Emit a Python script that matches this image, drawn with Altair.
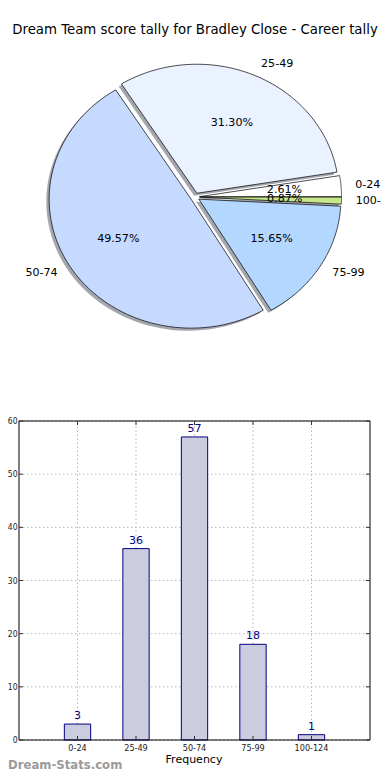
import altair as alt
import pandas as pd

# ---------------- data ----------------
title_text = "Dream Team score tally for Bradley Close - Career tally"
cats = ["0-24", "25-49", "50-74", "75-99", "100-124"]
counts = [3, 36, 57, 18, 1]
pie_colors = ["#ffffff", "#eaf2ff", "#c6d9ff", "#b3d7ff", "#c8e68c"]
y_ticks = [0, 10, 20, 30, 40, 50, 60]
x_title = "Frequency"
watermark = "Dream-Stats.com"

# ---------------- layout (canvas pixels) ----------------
W, H = 374, 764
CX, CY = 187, 189          # pie centre
RX, RY = 142, 129          # pie radii (elliptical like the original)
EXPLODE = 0.032
N = 72                     # points per arc
SDX, SDY = -2.8, 2.6       # shadow offset
BX0, BX1, BY0, BY1 = 11, 362, 732, 413  # bar plot frame
XMIN, XMAX, YMIN, YMAX = -1, 5, 0, 60
TICK_X = 4 * (XMAX - XMIN) / (BX1 - BX0)   # 4px tick length in x data units
TICK_Y = 4 * (YMAX - YMIN) / (BY0 - BY1)   # 4px tick length in y data units
FONT = "DejaVu Sans"
SMALL_FONT = "DejaVu Sans Condensed, Liberation Sans Narrow, DejaVu Sans"

pie_df = pd.DataFrame({"cat": cats, "count": counts, "order": list(range(len(cats)))})
bar_df = pd.DataFrame({"cat": cats, "count": counts, "idx": list(range(len(cats)))})
ytick_df = pd.DataFrame({"v": y_ticks})
one = pd.DataFrame({"t": [title_text], "x": [x_title], "w": [watermark]})

# ---------------- pie ----------------
base = (
    alt.Chart(pie_df)
    .transform_joinaggregate(total="sum(count)")
    .transform_window(cum="sum(count)", sort=[alt.SortField("order")], frame=[None, 0])
    .transform_calculate(
        a0="2*PI*(datum.cum - datum.count)/datum.total",
        a1="2*PI*datum.cum/datum.total",
    )
    .transform_calculate(mid="(datum.a0 + datum.a1)/2")
    .transform_calculate(
        cx=f"{CX} + {EXPLODE * RX}*cos(datum.mid)",
        cy=f"{CY} - {EXPLODE * RY}*sin(datum.mid)",
        pct="format(100*datum.count/datum.total, '.2f') + '%'",
    )
)

poly = (
    base.transform_calculate(seq=f"sequence(-1, {N + 2})")
    .transform_flatten(["seq"])
    .transform_calculate(t=f"clamp(datum.seq, 0, {N})/{N}")
    .transform_calculate(
        ang="datum.a0 + (datum.a1 - datum.a0)*datum.t",
        apex=f"datum.seq < 0 || datum.seq > {N}",
    )
    .transform_calculate(
        px=f"datum.apex ? datum.cx : datum.cx + {RX}*cos(datum.ang)",
        py=f"datum.apex ? datum.cy : datum.cy - {RY}*sin(datum.ang)",
    )
)

shadow = (
    poly.transform_calculate(sx=f"datum.px + {SDX}", sy=f"datum.py + {SDY}")
    .mark_line(fill="#4b5060", fillOpacity=0.5, strokeOpacity=0)
    .encode(
        x=alt.X("sx:Q", scale=None, axis=None),
        y=alt.Y("sy:Q", scale=None, axis=None),
        order="seq:Q",
        detail="cat:N",
    )
)

slices = poly.mark_line(stroke="black", strokeWidth=0.7).encode(
    x=alt.X("px:Q", scale=None, axis=None),
    y=alt.Y("py:Q", scale=None, axis=None),
    order="seq:Q",
    detail="cat:N",
    fill=alt.Fill("cat:N", scale=alt.Scale(domain=cats, range=pie_colors), legend=None),
)

pct_labels = (
    base.transform_calculate(
        qx=f"datum.cx + {0.6 * RX}*cos(datum.mid)",
        qy=f"datum.cy - {0.6 * RY}*sin(datum.mid)",
    )
    .mark_text(align="center", baseline="middle", font=FONT, fontSize=11.1, color="black")
    .encode(
        x=alt.X("qx:Q", scale=None, axis=None),
        y=alt.Y("qy:Q", scale=None, axis=None),
        text="pct:N",
    )
)

lab = base.transform_calculate(
    lx=f"datum.cx + {1.1 * RX}*cos(datum.mid)",
    ly=f"datum.cy - {1.1 * RY}*sin(datum.mid)",
)
lab_right = (
    lab.transform_filter(f"datum.lx >= {CX}")
    .mark_text(align="left", baseline="middle", font=FONT, fontSize=11.1, color="black", clip=True)
    .encode(x=alt.X("lx:Q", scale=None, axis=None), y=alt.Y("ly:Q", scale=None, axis=None), text="cat:N")
)
lab_left = (
    lab.transform_filter(f"datum.lx < {CX}")
    .mark_text(align="right", baseline="middle", font=FONT, fontSize=11.1, color="black", clip=True)
    .encode(x=alt.X("lx:Q", scale=None, axis=None), y=alt.Y("ly:Q", scale=None, axis=None), text="cat:N")
)

# ---------------- bar chart ----------------
xs = alt.Scale(domain=[XMIN, XMAX], range=[BX0, BX1], nice=False, zero=False)
ys = alt.Scale(domain=[YMIN, YMAX], range=[BY0, BY1], nice=False, zero=False)

grid_col = "#b8b8b8"
vgrid = alt.Chart(bar_df).mark_rule(color=grid_col, strokeDash=[1.5, 2.5], strokeWidth=1).encode(
    x=alt.X("idx:Q", scale=xs, axis=None),
    y=alt.Y(datum=YMIN, scale=ys, axis=None),
    y2=alt.datum(YMAX),
)
hgrid = alt.Chart(ytick_df).mark_rule(color=grid_col, strokeDash=[1.5, 2.5], strokeWidth=1).encode(
    x=alt.X(datum=XMIN, scale=xs, axis=None),
    x2=alt.datum(XMAX),
    y=alt.Y("v:Q", scale=ys, axis=None),
)

tick_col = "#333333"
yticks_l = alt.Chart(ytick_df).mark_rule(color=tick_col, strokeWidth=1).encode(
    x=alt.X(datum=XMIN, scale=xs, axis=None), x2=alt.datum(XMIN + TICK_X),
    y=alt.Y("v:Q", scale=ys, axis=None),
)
yticks_r = alt.Chart(ytick_df).mark_rule(color=tick_col, strokeWidth=1).encode(
    x=alt.X(datum=XMAX - TICK_X, scale=xs, axis=None), x2=alt.datum(XMAX),
    y=alt.Y("v:Q", scale=ys, axis=None),
)
xticks_b = alt.Chart(bar_df).mark_rule(color=tick_col, strokeWidth=1).encode(
    x=alt.X("idx:Q", scale=xs, axis=None),
    y=alt.Y(datum=YMIN, scale=ys, axis=None), y2=alt.datum(YMIN + TICK_Y),
)
xticks_t = alt.Chart(bar_df).mark_rule(color=tick_col, strokeWidth=1).encode(
    x=alt.X("idx:Q", scale=xs, axis=None),
    y=alt.Y(datum=YMAX - TICK_Y, scale=ys, axis=None), y2=alt.datum(YMAX),
)

bars = (
    alt.Chart(bar_df)
    .transform_calculate(x0="datum.idx - 0.225", x1="datum.idx + 0.225")
    .mark_bar(fill="#ccccdf", stroke="#000080", strokeWidth=1)
    .encode(
        x=alt.X("x0:Q", scale=xs, axis=None),
        x2="x1:Q",
        y=alt.Y("count:Q", scale=ys, axis=None),
        y2=alt.datum(0),
    )
)

frame = alt.Chart(one).mark_rect(fillOpacity=0, stroke="black", strokeWidth=1).encode(
    x=alt.X(datum=XMIN, scale=xs, axis=None),
    x2=alt.datum(XMAX),
    y=alt.Y(datum=YMIN, scale=ys, axis=None),
    y2=alt.datum(YMAX),
)

values = alt.Chart(bar_df).mark_text(
    baseline="bottom", dy=-3, color="#000080", font=FONT, fontSize=11
).encode(
    x=alt.X("idx:Q", scale=xs, axis=None),
    y=alt.Y("count:Q", scale=ys, axis=None),
    text="count:Q",
)

# tick labels (drawn as text so they sit exactly at the frame)
ylabels = alt.Chart(ytick_df).mark_text(
    align="right", baseline="middle", dx=-1.5, font=SMALL_FONT, fontSize=8.5, color="#222222"
).encode(
    x=alt.X(datum=XMIN, scale=xs, axis=None),
    y=alt.Y("v:Q", scale=ys, axis=None),
    text="v:Q",
)
xlabels = alt.Chart(bar_df).mark_text(
    align="center", baseline="top", dy=4, font=SMALL_FONT, fontSize=9, color="#222222"
).encode(
    x=alt.X("idx:Q", scale=xs, axis=None),
    y=alt.Y(datum=YMIN, scale=ys, axis=None),
    text="cat:N",
)

# ---------------- texts ----------------
title = alt.Chart(one).mark_text(font=FONT, fontSize=13.3, color="black", baseline="middle").encode(
    x=alt.value(187), y=alt.value(22), text="t:N"
)
xtitle = alt.Chart(one).mark_text(font=FONT, fontSize=11, color="black", baseline="middle").encode(
    x=alt.value(186), y=alt.value(752), text="x:N"
)
wm = alt.Chart(one).mark_text(
    font=FONT, fontSize=11.7, fontWeight="bold", color="#9a9a9a", align="left", baseline="bottom"
).encode(x=alt.value(0), y=alt.value(763), text="w:N")

chart = (
    alt.layer(hgrid, vgrid, bars, frame, yticks_l, yticks_r, xticks_b, xticks_t,
              values, ylabels, xlabels,
              shadow, slices, pct_labels, lab_right, lab_left, title, xtitle, wm)
    .properties(width=W, height=H, autosize=alt.AutoSizeParams(type="none"), padding=0)
    .configure_view(strokeWidth=0)
)

chart.save("out.html", embed_options={"renderer": "svg", "actions": False})
